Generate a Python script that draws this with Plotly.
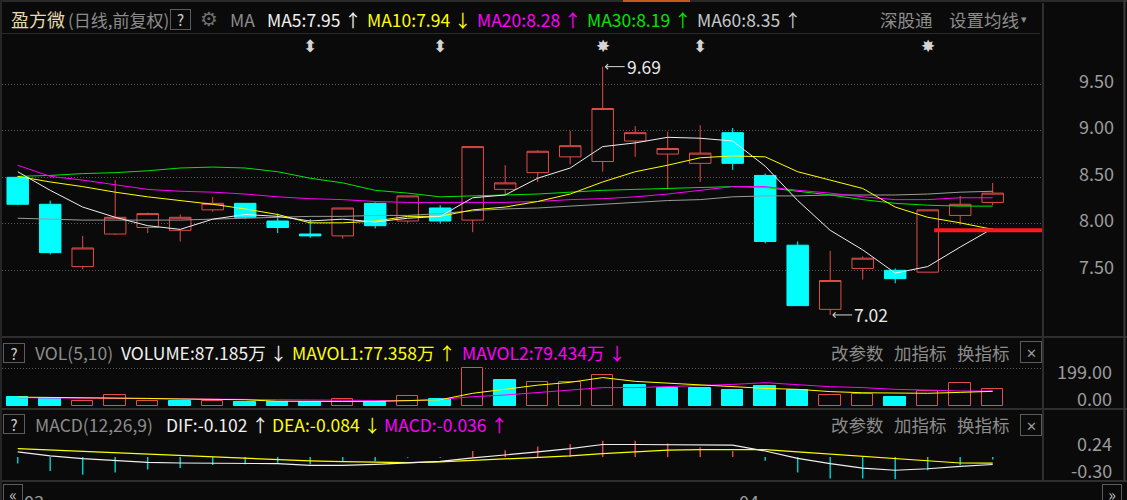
import plotly.graph_objects as go

W, H = 1127, 500
BG = "#0a0a0a"
RED = "#e24c4c"
CYAN = "#00ffff"
GRAY = "#8c8c8c"
AXIS_TXT = "#9c9c9c"
BORDER = "#2e2e2e"
FONT = "Noto Sans CJK SC"

# --- 数据 (日线,前复权) ---
idx = list(range(31))
opens = [8.50, 8.21, 7.54, 7.89, 7.96, 7.93, 8.15, 8.22, 8.03, 7.89, 7.87, 8.22, 8.03, 8.17, 8.04, 8.37,
         8.55, 8.72, 8.67, 8.89, 8.75, 8.65, 8.98, 8.52, 7.77, 7.08, 7.52, 7.50, 7.48, 8.09, 8.23]
highs = [8.51, 8.25, 7.87, 8.47, 8.12, 8.10, 8.29, 8.22, 8.11, 8.05, 8.17, 8.23, 8.30, 8.20, 8.83, 8.63,
         8.79, 9.00, 9.69, 9.05, 8.99, 9.06, 9.03, 8.54, 7.81, 7.71, 7.65, 7.52, 8.15, 8.30, 8.44]
lows = [8.20, 7.67, 7.51, 7.88, 7.90, 7.81, 8.13, 8.05, 7.90, 7.85, 7.84, 7.95, 8.01, 8.00, 7.91, 8.31,
        8.45, 8.64, 8.56, 8.72, 8.37, 8.45, 8.58, 7.79, 7.12, 7.02, 7.40, 7.36, 7.48, 7.99, 8.20]
closes = [8.21, 7.69, 7.74, 8.07, 8.11, 8.07, 8.22, 8.07, 7.96, 7.87, 8.17, 7.98, 8.30, 8.03, 8.83, 8.44,
          8.78, 8.84, 9.24, 8.98, 8.81, 8.76, 8.65, 7.81, 7.12, 7.39, 7.63, 7.41, 8.15, 8.21, 8.33]

ma5 = [8.56, 8.36, 8.18, 8.07, 7.98, 7.94, 8.05, 8.10, 8.08, 8.03, 8.05, 8.02, 8.06, 8.08, 8.28, 8.31,
       8.49, 8.60, 8.83, 8.87, 8.93, 8.92, 8.89, 8.62, 8.25, 7.93, 7.72, 7.47, 7.54, 7.75, 7.95]
ma10 = [8.51, 8.45, 8.40, 8.34, 8.29, 8.25, 8.21, 8.16, 8.10, 8.01, 8.01, 8.03, 8.08, 8.08, 8.15, 8.18,
        8.24, 8.32, 8.45, 8.56, 8.63, 8.71, 8.73, 8.72, 8.56, 8.47, 8.38, 8.18, 8.07, 8.01, 7.94]
ma20 = [8.63, 8.51, 8.47, 8.42, 8.37, 8.35, 8.34, 8.32, 8.29, 8.27, 8.26, 8.24, 8.23, 8.23, 8.23, 8.23,
        8.24, 8.26, 8.27, 8.29, 8.32, 8.36, 8.40, 8.40, 8.36, 8.33, 8.29, 8.26, 8.26, 8.28, 8.28]
ma30 = [8.51, 8.52, 8.54, 8.55, 8.57, 8.60, 8.61, 8.60, 8.56, 8.49, 8.44, 8.36, 8.33, 8.29, 8.30, 8.31,
        8.32, 8.34, 8.36, 8.37, 8.38, 8.39, 8.40, 8.39, 8.35, 8.31, 8.26, 8.22, 8.20, 8.19, 8.19]
ma60 = [8.06, 8.05, 8.04, 8.04, 8.04, 8.04, 8.05, 8.06, 8.07, 8.08, 8.08, 8.09, 8.09, 8.11, 8.14, 8.16,
        8.17, 8.19, 8.21, 8.23, 8.25, 8.26, 8.29, 8.30, 8.30, 8.31, 8.31, 8.31, 8.32, 8.34, 8.35]

# 成交量 (万)
volume = [47.5, 40.6, 26.4, 56.3, 26.4, 26.4, 26.4, 19.4, 19.4, 19.4, 37.0, 22.9, 51.0, 35.0, 199.0, 137.0,
          125.0, 125.0, 163.6, 110.8, 96.7, 96.7, 82.6, 105.6, 84.5, 58.0, 61.6, 49.3, 79.2, 119.6, 87.185]
mavol1 = [47, 46, 43, 42, 40, 37, 35, 33, 25, 23, 24, 24, 30, 33, 67, 87,
          110, 125, 150, 130, 120, 111, 102, 93, 88, 76, 70, 67, 67, 72, 77.358]
mavol2 = [44, 43, 42, 41, 41, 40, 38, 35, 33, 31, 29, 28, 28, 35, 49, 58,
          70, 84, 97, 97, 102, 106, 114, 123, 114, 102, 97, 88, 84, 79, 79.434]

# MACD(12,26,9)
dif = [0.068, 0.014, -0.023, -0.050, -0.073, -0.082, -0.082, -0.082, -0.091, -0.113, -0.113, -0.100, -0.082,
       -0.059, -0.014, 0.023, 0.068, 0.113, 0.168, 0.168, 0.168, 0.168, 0.159, 0.080, -0.020, -0.090, -0.150,
       -0.180, -0.160, -0.127, -0.102]
dea = [0.113, 0.095, 0.077, 0.054, 0.032, 0.014, -0.005, -0.023, -0.036, -0.054, -0.063, -0.068, -0.077,
       -0.068, -0.050, -0.032, -0.014, 0.014, 0.045, 0.068, 0.091, 0.100, 0.100, 0.100, 0.068, 0.036, 0.009,
       -0.023, -0.054, -0.082, -0.084]
macd_hist = [-0.09, -0.19, -0.24, -0.21, -0.17, -0.15, -0.11, -0.10, -0.08, -0.10, -0.06, -0.06, -0.01, -0.01,
             0.08, 0.09, 0.14, 0.17, 0.22, 0.22, 0.18, 0.13, 0.08, -0.05, -0.21, -0.29, -0.29, -0.30, -0.18,
             -0.11, -0.036]

price_ticks = [7.50, 8.00, 8.50, 9.00, 9.50]
signal_marks = [(9, "⬍"), (13, "⬍"), (18, "✸"), (21, "⬍"), (28, "✸")]
date_ticks = [(0, "03"), (22, "04")]
red_line = dict(price=7.93, start=28.2, end=31.85)

# --- 布局换算 (像素 -> paper) ---
def pxx(p):
    return p / W


def pxy(p):
    return 1 - p / H


X_L, X_R = 2, 1042
FIRST_X, STEP = 17.7, 32.5
x_range = [(X_L - FIRST_X) / STEP, (X_R - FIRST_X) / STEP]
# price scale: 9.50 at y=84.3px, 93px per 1.00
price_range = [9.5 - (337 - 84.3) / 93, 9.5 + (84.3 - 34) / 93]
vol_range = [0, 199 * (406 - 362) / (406 - 368.3)]

fig = go.Figure()

fig.add_trace(go.Candlestick(
    x=idx, open=opens, high=highs, low=lows, close=closes,
    increasing=dict(line=dict(color=RED, width=1), fillcolor=BG),
    decreasing=dict(line=dict(color=CYAN, width=1), fillcolor=CYAN),
    whiskerwidth=0, hoverinfo="skip", xaxis="x", yaxis="y"))

for vals, col in [(ma60, "#9a9a9a"), (ma30, "#00e600"), (ma20, "#ff00ff"), (ma10, "#ffff00"), (ma5, "#eeeeee")]:
    fig.add_trace(go.Scatter(x=idx, y=vals, mode="lines", line=dict(color=col, width=1),
                             hoverinfo="skip", xaxis="x", yaxis="y"))

# volume: red when close >= previous close
vol_up = [i > 0 and closes[i] >= closes[i - 1] for i in idx]
fig.add_trace(go.Bar(x=[i for i in idx if vol_up[i]], y=[volume[i] for i in idx if vol_up[i]],
                     width=0.66, marker=dict(color=BG, line=dict(color=RED, width=1)),
                     hoverinfo="skip", xaxis="x2", yaxis="y2"))
fig.add_trace(go.Bar(x=[i for i in idx if not vol_up[i]], y=[volume[i] for i in idx if not vol_up[i]],
                     width=0.66, marker=dict(color=CYAN, line=dict(color=CYAN, width=1)),
                     hoverinfo="skip", xaxis="x2", yaxis="y2"))
fig.add_trace(go.Scatter(x=idx, y=mavol2, mode="lines", line=dict(color="#ff00ff", width=1),
                         hoverinfo="skip", xaxis="x2", yaxis="y2"))
fig.add_trace(go.Scatter(x=idx, y=mavol1, mode="lines", line=dict(color="#ffff00", width=1),
                         hoverinfo="skip", xaxis="x2", yaxis="y2"))

# MACD sticks
for positive, col in [(True, "#e04848"), (False, "#00c8c8")]:
    sx, sy = [], []
    for i in idx:
        if (macd_hist[i] > 0) == positive:
            sx += [i, i, None]
            sy += [0, macd_hist[i], None]
    fig.add_trace(go.Scatter(x=sx, y=sy, mode="lines", line=dict(color=col, width=1.5),
                             hoverinfo="skip", xaxis="x3", yaxis="y3"))
fig.add_trace(go.Scatter(x=idx, y=dea, mode="lines", line=dict(color="#ffff00", width=1.2),
                         hoverinfo="skip", xaxis="x3", yaxis="y3"))
fig.add_trace(go.Scatter(x=idx, y=dif, mode="lines", line=dict(color="#eeeeee", width=1.2),
                         hoverinfo="skip", xaxis="x3", yaxis="y3"))

xdom = [pxx(X_L), pxx(X_R)]
hidden_x = dict(domain=xdom, range=x_range, visible=False, fixedrange=True)
grid = dict(showgrid=True, gridcolor="#5a5a5a", griddash="1px,2px", gridwidth=1, zeroline=False,
            showline=False, fixedrange=True)

annotations = []
TS = 17.5


def label(text, x, y, color, size=TS, anchor="left", family=FONT, **kw):
    annotations.append(dict(text=text, x=pxx(x), y=pxy(y), xref="paper", yref="paper", xanchor=anchor,
                            yanchor="middle", showarrow=False, borderpad=0,
                            font=dict(color=color, size=size, family=family), **kw))


def boxed(text, x0, y0, x1, y1, color="#cfcfcf", size=15):
    annotations.append(dict(text=text, x=pxx((x0 + x1) / 2), y=pxy((y0 + y1) / 2), xref="paper",
                            yref="paper", xanchor="center", yanchor="middle", showarrow=False,
                            width=x1 - x0 - 3, height=y1 - y0 - 3, borderpad=1, bordercolor="#5c5c5c",
                            borderwidth=1, font=dict(color=color, size=size, family=FONT)))


# main header
HY = 19
label("盈方微", 10, HY, "#e6dcaa", 18)
label("(日线,前复权)", 67, HY, GRAY, 17)
boxed("?", 170, 9, 190, 29)
label("⚙", 199, HY, "#6e6e6e", 20, family="DejaVu Sans")
label("MA", 229, HY, GRAY)
for text, x, col in [("MA5:7.95 ↑", 266, "#f0f0f0"), ("MA10:7.94 ↓", 366, "#ffff00"),
                     ("MA20:8.28 ↑", 476, "#ff00ff"), ("MA30:8.19 ↑", 586, "#00e600"),
                     ("MA60:8.35 ↑", 696, "#c4c8cc")]:
    label(text, x, HY, col)
label("深股通", 879, HY, GRAY)
label("设置均线", 948, HY, GRAY)
label("▾", 1020, HY, GRAY, 11, family="DejaVu Sans")

# signal markers
for i, sym in signal_marks:
    annotations.append(dict(text=sym, x=i, y=pxy(46), xref="x", yref="paper", showarrow=False,
                            xanchor="center", yanchor="middle",
                            font=dict(color="#d4d4d4", size=17, family="DejaVu Sans")))

# high / low markers
for i, val in [(18, highs[18]), (25, lows[25])]:
    annotations.append(dict(text=f"{val:.2f}", x=i, y=val, xref="x", yref="y", showarrow=True,
                            ax=22, ay=0, xanchor="left", arrowhead=4, arrowsize=1, arrowwidth=1,
                            arrowcolor="#d8d8d8", standoff=2,
                            font=dict(color="#e8e8e8", size=TS, family=FONT)))

# volume header
VY = 352
boxed("?", 3, 343, 24, 362)
label("VOL(5,10)", 34, VY, GRAY)
label("VOLUME:87.185万 ↓", 120, VY, "#f0f0f0")
label("MAVOL1:77.358万 ↑", 291, VY, "#ffff00")
label("MAVOL2:79.434万 ↓", 461, VY, "#ff00ff")

# MACD header
MY = 424
boxed("?", 3, 414, 24, 433)
label("MACD(12,26,9)", 34, MY, GRAY)
label("DIF:-0.102 ↑", 165, MY, "#f0f0f0")
label("DEA:-0.084 ↓", 271, MY, "#ffff00")
label("MACD:-0.036 ↑", 383, MY, "#ff00ff")

for yy, (b0, b1) in [(VY, (341, 362)), (MY, (414, 435))]:
    label("改参数", 830, yy, GRAY)
    label("加指标", 893, yy, GRAY)
    label("换指标", 956, yy, GRAY)
    boxed("✕", 1020, b0, 1041, b1, color="#9a9a9a", size=13)

# right side labels of lower panels
for text, y in [("199.00", 371), ("0.00", 398), ("0.24", 443), ("-0.30", 470)]:
    label(text, 1113, y, AXIS_TXT, 18, anchor="right")

# date axis
for i, txt in date_ticks:
    annotations.append(dict(text=txt, x=i, y=pxy(486), xref="x3", yref="paper", xshift=4,
                            xanchor="left", yanchor="top", showarrow=False,
                            font=dict(color=AXIS_TXT, size=18, family=FONT)))
boxed("«", 3, 484, 22, 503, color="#bdbdbd", size=16)
boxed("»", 1102, 484, 1121, 503, color="#bdbdbd", size=16)

shapes = []


def hline(y, x0, x1, color=BORDER, width=2):
    shapes.append(dict(type="line", xref="paper", yref="paper", x0=pxx(x0), x1=pxx(x1),
                       y0=pxy(y), y1=pxy(y), line=dict(color=color, width=width)))


def vline(x, y0, y1, color=BORDER, width=2):
    shapes.append(dict(type="line", xref="paper", yref="paper", x0=pxx(x), x1=pxx(x),
                       y0=pxy(y0), y1=pxy(y1), line=dict(color=color, width=width)))


hline(1, 0, W, "#2a2a2a", 2)
hline(1, 623, 690, "#c25a20", 2)
hline(33.5, 0, 1040, "#2a2a2a", 1)
hline(337, 0, W)
hline(409, 0, W)
hline(481, 0, W)
vline(1, 0, 500, "#262626", 2)
vline(1043, 3, 481)
vline(1124.5, 0, 481, "#3a3a3a", 2)
shapes.append(dict(type="line", xref="x", yref="y", x0=red_line["start"], x1=red_line["end"],
                   y0=red_line["price"], y1=red_line["price"], line=dict(color="#ff1a1a", width=4),
                   layer="above"))

fig.update_layout(
    width=W, height=H, margin=dict(l=0, r=0, t=0, b=0),
    paper_bgcolor=BG, plot_bgcolor=BG, showlegend=False,
    boxgap=0.34, boxgroupgap=0, bargap=0,
    xaxis=dict(hidden_x, rangeslider=dict(visible=False), anchor="y"),
    xaxis2=dict(hidden_x, anchor="y2"),
    xaxis3=dict(hidden_x, anchor="y3"),
    yaxis=dict(grid, domain=[pxy(337), pxy(34)], range=price_range, side="right", anchor="x",
               tickvals=price_ticks, ticktext=[f"{v:.2f}" for v in price_ticks],
               tickfont=dict(color=AXIS_TXT, size=18, family=FONT), ticks="",
               ticklabelstandoff=36, ticklabelshift=-3),
    yaxis2=dict(grid, domain=[pxy(406), pxy(362)], range=vol_range, anchor="x2",
                tickvals=[199], showticklabels=False, ticks=""),
    yaxis3=dict(grid, domain=[pxy(479.5), pxy(438.8)], range=[-0.305, 0.245], anchor="x3",
                tickvals=[-0.30, 0.24], showticklabels=False, ticks=""),
    annotations=annotations, shapes=shapes,
)

# page body has a default margin; remove it so the figure sits at the window origin
fig.write_html("out.html", config={"displayModeBar": False},
               post_script="document.body.style.margin='0';"
                           "document.body.style.background='#0a0a0a';")
